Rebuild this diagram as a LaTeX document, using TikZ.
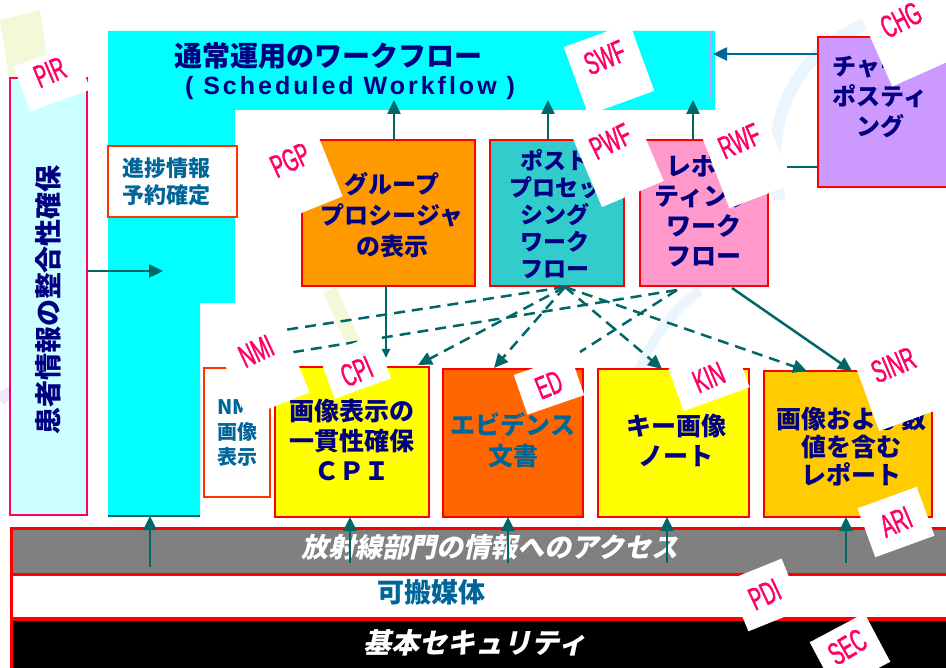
\documentclass[tikz,border=0pt]{standalone}
\usepackage{fontspec}
\setmainfont{Noto Sans CJK JP}
\newfontfamily\jpsl{Noto Sans CJK JP}[FakeSlant=0.22]
\newfontfamily\latf{Liberation Sans}[LetterSpace=12]
\newfontfamily\lblf{Liberation Sans}[FakeStretch=0.58,FakeBold=1.2]
\usetikzlibrary{arrows.meta,calc}
\definecolor{cNavy}{HTML}{000080}
\definecolor{cBlue}{HTML}{006699}
\definecolor{cTeal}{HTML}{006666}
\definecolor{cSteel}{HTML}{006699}
\definecolor{cRed}{HTML}{FF0000}
\definecolor{cOrRed}{HTML}{FF3300}
\definecolor{cCrim}{HTML}{FF0066}
\definecolor{cTag}{HTML}{FF0066}
\definecolor{cCyan}{HTML}{00FFFF}
\definecolor{cPale}{HTML}{CCFFFF}
\definecolor{cOrange}{HTML}{FF9900}
\definecolor{cTurq}{HTML}{33CCCC}
\definecolor{cPink}{HTML}{FF99CC}
\definecolor{cPurple}{HTML}{CC99FF}
\definecolor{cYellow}{HTML}{FFFF00}
\definecolor{cDeepOr}{HTML}{FF6600}
\definecolor{cGold}{HTML}{FFCC00}
\definecolor{cGray}{HTML}{808080}
\definecolor{cLav}{HTML}{CC99FF}
\definecolor{cDecoY}{HTML}{F2F9D8}
\definecolor{cDecoB}{HTML}{EAF5FD}
\definecolor{cDecoP}{HTML}{F3E6FA}
\newcommand\fsz[2]{\fontsize{#1}{#2}\selectfont}
\newcommand\tagnote[8]{%
  \node[tagbox, minimum width=#4, minimum height=#5, rotate=#6] (#1) at (#2,#3) {};
  \node[tagtxt, rotate=#6+3] (#1t) at ($(#1.north)!#8!(#1.south)$) {#7};}
\tikzset{
  bx/.style={draw=cRed, line width=2.5pt, inner sep=0pt, outer sep=0pt, anchor=north west},
  jn/.style={text=cNavy, align=center, inner sep=0pt},
  jb/.style={text=cBlue, align=center, inner sep=0pt},
  conn/.style={draw=cTeal, line width=2.5pt},
  arr/.style={conn, -{Triangle[width=13pt,length=14pt]}},
  dline/.style={conn, dash pattern=on 11pt off 7pt},
  darr/.style={dline, -{Triangle[width=13pt,length=14pt]}},
  tagbox/.style={fill=white, inner sep=0pt},
  tagtxt/.style={text=cTag, font=\lblf\fsz{32}{32}, inner sep=0pt},
}
\begin{document}
\begin{tikzpicture}[x=1pt,y=-1pt]
\useasboundingbox (0,0) rectangle (946,668);
\clip (0,0) rectangle (946,668);
% faint background decoration
\draw[cDecoY, line width=14pt] (330,290) .. controls (360,360) and (390,420) .. (425,470);
\draw[cDecoB, line width=10pt] (700,290) .. controls (660,320) and (640,360) .. (630,400);
\draw[cDecoB, line width=12pt] (780,200) .. controls (760,120) and (800,40) .. (880,20);
\fill[cDecoY] (0,20) -- (40,10) -- (60,150) -- (20,150) -- cycle;
\draw[cDecoP, line width=12pt] (0,400) .. controls (20,380) and (50,395) .. (70,420);
% cyan L-shaped workflow area
\fill[cCyan] (108,31) -- (715,31) -- (715,110) -- (235,110) -- (235,303) -- (200,303) -- (200,515) -- (108,515) -- cycle;
\draw[cTeal, line width=2.5pt] (108,516) -- (200,516);
\draw[cLav, line width=1.5pt] (711,31) -- (711,98);
\node[jn, font=\bfseries\fsz{28}{30}] (wfT1) at (328,56) {通常運用のワークフロー};
\node[jn, font=\latf\bfseries\fsz{25}{28}] (wfT2) at (350,88) {( Scheduled Workflow )};
% left box
\node[bx, draw=cCrim, fill=cPale, minimum width=77, minimum height=437] (pir) at (10,78) {};
\node[jn, rotate=90, font=\bfseries\fsz{27}{30}] (pirT) at (48,300) {患者情報の整合性確保};
% yoyaku box
\node[bx, draw=cOrRed, fill=white, minimum width=129, minimum height=71] (yoy) at (108,146) {};
\node[jb, font=\bfseries\fsz{22}{27}] (yoyT) at (166,182) {進捗情報\\予約確定};
% middle boxes
\node[bx, fill=cOrange, minimum width=173, minimum height=146] (pgp) at (302,140) {};
\node[jn, font=\bfseries\fsz{24}{31}] (pgpT) at (392,215) {グループ\\プロシージャ\\の表示};
\node[bx, fill=cTurq, minimum width=134, minimum height=146] (pwf) at (490,140) {};
\node[jn, font=\bfseries\fsz{23}{27}] (pwfT) at (555,214) {ポスト\\プロセッ\\シング\\ワーク\\フロー};
\node[bx, fill=cPink, minimum width=128, minimum height=146] (rwf) at (640,140) {};
\node[jn, font=\bfseries\fsz{25}{30}] (rwfT) at (704,210) {レポー\\ティング\\ワーク\\フロー};
\node[bx, fill=cPurple, minimum width=150, minimum height=150] (chg) at (818,37) {};
\node[jn, font=\bfseries\fsz{24}{30}] (chgT) at (880,97) {チャージ\\ポスティ\\ング};
% bottom boxes
\node[bx, draw=cOrRed, fill=white, minimum width=66, minimum height=129] (nmi) at (204,368) {};
\node[jb, font=\bfseries\fsz{20}{25}] (nmiT) at (237,433) {NMI\\画像\\表示};
\node[bx, fill=cYellow, minimum width=154, minimum height=150] (cpi) at (275,367) {};
\node[jn, font=\bfseries\fsz{25}{30}] (cpiT) at (352,440) {画像表示の\\一貫性確保\\ＣＰＩ};
\node[bx, fill=cDeepOr, minimum width=140, minimum height=148] (ed) at (443,369) {};
\node[jb, font=\bfseries\fsz{25}{31}] (edT) at (513,440) {エビデンス\\文書};
\node[bx, fill=cYellow, minimum width=151, minimum height=148] (kin) at (598,369) {};
\node[jn, font=\bfseries\fsz{25}{30}] (kinT) at (676,440) {キー画像\\ノート};
\node[bx, fill=cGold, minimum width=168, minimum height=146] (sinr) at (764,371) {};
\node[jn, font=\bfseries\fsz{25}{28}] (sinrT) at (851,447) {画像および数\\値を含む\\レポート};
% bottom bars
\node[bx, line width=3pt, fill=cGray, minimum width=960, minimum height=46] (acc) at (11,528) {};
\node[bx, line width=3pt, fill=white, minimum width=960, minimum height=44] (pdi) at (11,574) {};
\node[bx, line width=3pt, fill=black, minimum width=960, minimum height=60] (sec) at (11,619) {};
\node[text=white, inner sep=0pt, font=\jpsl\bfseries\fsz{27}{30}] (accT) at (490,547) {放射線部門の情報へのアクセス};
\node[jb, font=\bfseries\fsz{27}{30}] (pdiT) at (431,592) {可搬媒体};
\node[text=white, inner sep=0pt, font=\jpsl\bfseries\fsz{28}{30}] (secT) at (475,643) {基本セキュリティ};
% coordinates
\coordinate (cyanIn) at (163,271);
\coordinate (t1) at (394,100);
\coordinate (t2) at (548,100);
\coordinate (t3) at (693,100);
\coordinate (cyR) at (713,54);
\coordinate (stub) at (787,167);
\coordinate (c1) at (386,358);
\coordinate (pwfB) at (565,287);
\coordinate (rwfB) at (677,290);
\coordinate (rwfS) at (732,288);
\coordinate (n1) at (278,331);
\coordinate (n2) at (288,353);
\coordinate (e2) at (580,352);
\coordinate (cpiTip) at (418,365);
\coordinate (edTip) at (494,368);
\coordinate (kinTip) at (662,369);
\coordinate (snTip1) at (807,371);
\coordinate (snTip2) at (852,371);
\coordinate (cyanBot) at (150,516);
\coordinate (u1) at (150,567);
\coordinate (u2) at (350,563);
\coordinate (u3) at (508,563);
\coordinate (u4) at (667,563);
\coordinate (u5) at (846,563);
% connectors
\draw[arr] (pir.east |- cyanIn) -- (cyanIn);
\draw[arr] (pgp.north -| t1) -- (t1);
\draw[arr] (pwf.north -| t2) -- (t2);
\draw[arr] (rwf.north -| t3) -- (t3);
\draw[arr, draw=cSteel] (chg.west |- cyR) -- (cyR);
\draw[conn] (chg.west |- stub) -- (stub);
\draw[conn, -{Triangle[width=8pt,length=9pt]}] (pgp.south -| c1) -- (c1);
\draw[dline] (pwfB) -- (n1);
\draw[dline] (rwfB) -- (n2);
\draw[dline] (rwfB) -- (e2);
\draw[darr] (pwfB) -- (cpiTip);
\draw[darr] (pwfB) -- (edTip);
\draw[darr] (pwfB) -- (kinTip);
\draw[darr] (pwfB) -- (snTip1);
\draw[arr] (rwfS) -- (snTip2);
\draw[arr] (u1) -- (cyanBot);
\draw[arr] (u2) -- (u2 |- cpi.south);
\draw[arr] (u3) -- (u3 |- ed.south);
\draw[arr] (u4) -- (u4 |- kin.south);
\draw[arr] (u5) -- (u5 |- sinr.south);
% profile tags
\tagnote{tPIR}{52}{78}{64}{48}{20}{PIR}{18pt}
\tagnote{tSWF}{609}{69}{70}{72}{20}{SWF}{24pt}
\tagnote{tPGP}{297}{177}{70}{70}{22}{PGP}{17pt}
\tagnote{tPWF}{618}{159}{67}{76}{23}{PWF}{19pt}
\tagnote{tRWF}{746}{158}{67}{82}{21}{RWF}{23pt}
\tagnote{tCHG}{909}{38}{70}{75}{24}{CHG}{18pt}
\tagnote{tNMI}{263}{368}{68}{80}{22}{NMI}{22pt}
\tagnote{tCPI}{355}{367}{60}{46}{20}{CPI}{28pt}
\tagnote{tED}{549}{385}{60}{42}{19}{ED}{21pt}
\tagnote{tKIN}{709}{378}{70}{45}{20}{KIN}{22pt}
\tagnote{tSINR}{900}{383}{72}{76}{20}{SINR}{19pt}
\tagnote{tARI}{896}{522}{63}{52}{20}{ARI}{26pt}
\tagnote{tPDI}{765}{595}{58}{55}{22}{PDI}{27pt}
\tagnote{tSEC}{850}{652}{62}{55}{28}{SEC}{22pt}
\end{tikzpicture}
\end{document}
